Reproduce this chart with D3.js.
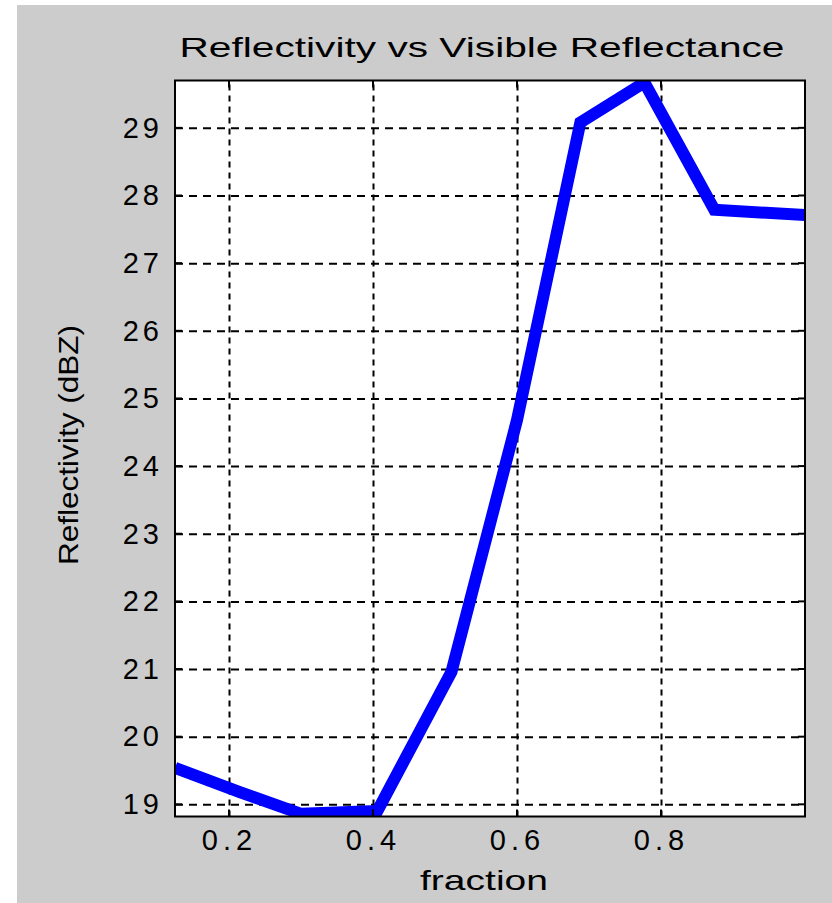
<!DOCTYPE html>
<html>
<head>
<meta charset="utf-8">
<script src="https://cdn.jsdelivr.net/npm/d3@7"></script>
<style>
  html, body { margin: 0; padding: 0; background: #ffffff; }
  svg { display: block; }
  text { font-family: "Liberation Sans", Arial, sans-serif; fill: #000; }
</style>
</head>
<body>
<svg id="chart" width="832" height="903"></svg>
<script>
// Mean reflectivity per visible-reflectance fraction
const fraction     = [0.125, 0.215, 0.300, 0.406, 0.509, 0.600, 0.688, 0.777, 0.874, 1.000];
const reflectivity = [19.54, 19.18, 18.86, 18.90, 20.96, 24.68, 29.08, 29.67, 27.79, 27.71];

const xTicks = [0.2, 0.4, 0.6, 0.8];
const yTicks = [19, 20, 21, 22, 23, 24, 25, 26, 27, 28, 29];
const xDomain = [0.125, 1.0];
const yDomain = [18.82, 29.70];

const titleText = "Reflectivity vs Visible Reflectance";
const xLabel = "fraction";
const yLabel = "Reflectivity (dBZ)";

const svg = d3.select("#chart");
const W = 832, H = 903;
const plot = { left: 175, top: 80.5, right: 805, bottom: 816.5 };

// figure background
svg.append("rect").attr("x", 17).attr("y", 5).attr("width", W - 17).attr("height", H - 5)
  .attr("fill", "#cccccc");

const x = d3.scaleLinear().domain(xDomain).range([plot.left, plot.right]);
const y = d3.scaleLinear().domain(yDomain).range([plot.bottom, plot.top]);

// axes area
svg.append("rect")
  .attr("x", plot.left).attr("y", plot.top)
  .attr("width", plot.right - plot.left).attr("height", plot.bottom - plot.top)
  .attr("fill", "#ffffff");

const pw = plot.right - plot.left, ph = plot.bottom - plot.top;

// dashed grid
const grid = svg.append("g");
grid.append("g")
  .attr("transform", `translate(0,${plot.bottom})`)
  .call(d3.axisBottom(x).tickValues(xTicks).tickSize(-ph).tickFormat(""))
  .call(g => g.select(".domain").remove())
  .call(g => g.selectAll("line").attr("stroke", "#000").attr("stroke-width", 2).attr("stroke-dasharray", "6,5"));
grid.append("g")
  .attr("transform", `translate(${plot.left},0)`)
  .call(d3.axisLeft(y).tickValues(yTicks).tickSize(-pw).tickFormat(""))
  .call(g => g.select(".domain").remove())
  .call(g => g.selectAll("line").attr("stroke", "#000").attr("stroke-width", 2).attr("stroke-dasharray", "8,6"));

// data line, clipped to the axes box
svg.append("clipPath").attr("id", "clip").append("rect")
  .attr("x", plot.left).attr("y", plot.top).attr("width", pw).attr("height", ph);

const pts = fraction.map((f, i) => [f, reflectivity[i]]);
svg.append("path")
  .datum(pts)
  .attr("clip-path", "url(#clip)")
  .attr("fill", "none")
  .attr("stroke", "#0000ff")
  .attr("stroke-width", 12)
  .attr("stroke-linejoin", "miter")
  .attr("d", d3.line().x(d => x(d[0])).y(d => y(d[1])));

// inward tick marks on all four sides
const tickLen = 7;
const ticks = svg.append("g").attr("stroke", "#000").attr("stroke-width", 2);
xTicks.forEach(t => {
  ticks.append("line").attr("x1", x(t)).attr("x2", x(t)).attr("y1", plot.bottom).attr("y2", plot.bottom - tickLen);
  ticks.append("line").attr("x1", x(t)).attr("x2", x(t)).attr("y1", plot.top).attr("y2", plot.top + tickLen);
});
yTicks.forEach(t => {
  ticks.append("line").attr("y1", y(t)).attr("y2", y(t)).attr("x1", plot.left).attr("x2", plot.left + tickLen);
  ticks.append("line").attr("y1", y(t)).attr("y2", y(t)).attr("x1", plot.right).attr("x2", plot.right - tickLen);
});

// box
svg.append("rect")
  .attr("x", plot.left).attr("y", plot.top).attr("width", pw).attr("height", ph)
  .attr("fill", "none").attr("stroke", "#000").attr("stroke-width", 2);

// tick labels
const xAxis = svg.append("g")
  .attr("transform", `translate(0,${plot.bottom})`)
  .call(d3.axisBottom(x).tickValues(xTicks).tickSize(0).tickPadding(12).tickFormat(d3.format(".1f")));
xAxis.select(".domain").remove();
xAxis.selectAll("text")
  .attr("font-family", "Liberation Sans, Arial, sans-serif")
  .attr("font-size", 29).attr("fill", "#000")
  .attr("letter-spacing", 5).attr("dy", "0.75em");

const yAxis = svg.append("g")
  .attr("transform", `translate(${plot.left},0)`)
  .call(d3.axisLeft(y).tickValues(yTicks).tickSize(0).tickPadding(12).tickFormat(d3.format("d")));
yAxis.select(".domain").remove();
yAxis.selectAll("text")
  .attr("font-family", "Liberation Sans, Arial, sans-serif")
  .attr("font-size", 29).attr("fill", "#000")
  .attr("letter-spacing", 4);

// title and axis labels
svg.append("text")
  .attr("x", 482).attr("y", 57)
  .attr("text-anchor", "middle")
  .attr("font-size", 28)
  .attr("textLength", 605).attr("lengthAdjust", "spacingAndGlyphs")
  .text(titleText);

svg.append("text")
  .attr("x", 484).attr("y", 890)
  .attr("text-anchor", "middle")
  .attr("font-size", 28)
  .attr("textLength", 128).attr("lengthAdjust", "spacingAndGlyphs")
  .text(xLabel);

svg.append("text")
  .attr("transform", "translate(78,445) rotate(-90)")
  .attr("text-anchor", "middle")
  .attr("font-size", 28)
  .attr("textLength", 240).attr("lengthAdjust", "spacingAndGlyphs")
  .text(yLabel);
</script>
</body>
</html>
